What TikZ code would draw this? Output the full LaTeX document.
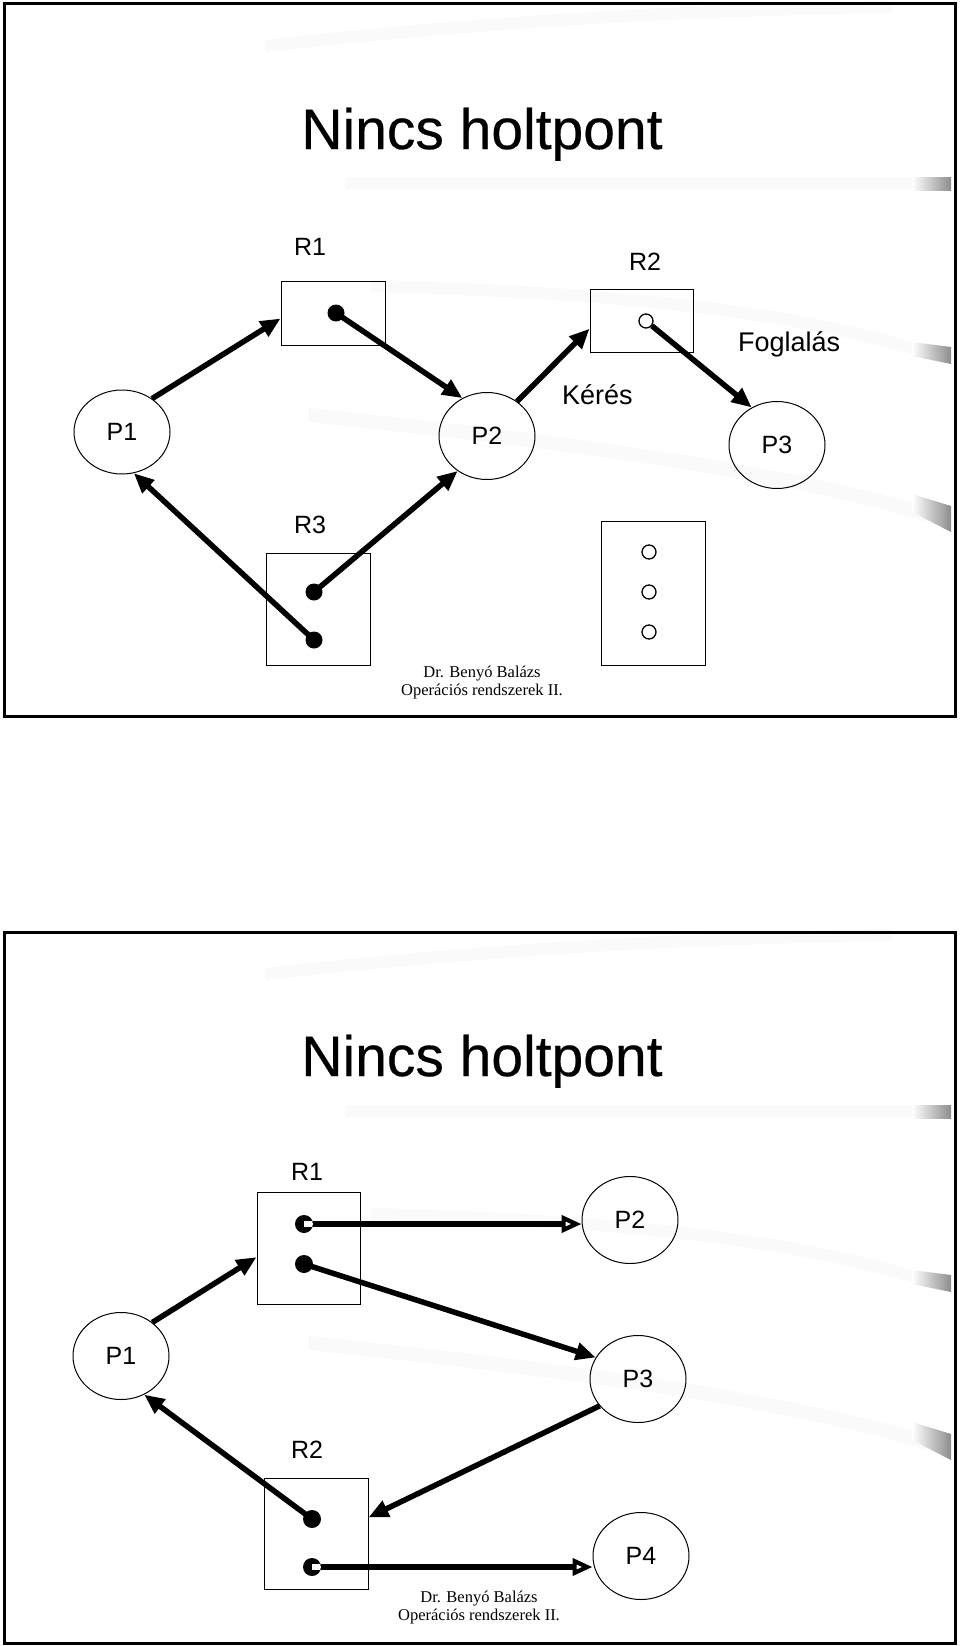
\documentclass[tikz,border=0pt]{standalone}
\usepackage{fontspec}
\setmainfont{Liberation Sans}
\newfontfamily\serifft{Liberation Serif}
\newfontfamily\titlefont[FakeBold=0.4]{Liberation Sans}
\usetikzlibrary{shapes.geometric,arrows.meta,calc}
\newcommand\slidebackdrop{%
  \draw[black!2,line width=12pt] (265,46) .. controls (500,20) and (700,10) .. (892,7);
  \draw[black!2,line width=12pt] (345,183) -- (929,183);
  \draw[black!2,line width=12pt] (370,286) .. controls (600,292) and (800,310) .. (929,354);
  \draw[black!2,line width=14pt] (308,415) .. controls (550,440) and (780,470) .. (929,515);
  \shade[left color=white,right color=black!45] (912,177) rectangle (951,190);
  \shade[left color=white,right color=black!45] (912,342) -- (951,347) -- (951,364) -- (912,356) -- cycle;
  \shade[left color=white,right color=black!45] (912,494) -- (951,506) -- (951,532) -- (912,512) -- cycle;
}
\begin{document}
\begin{tikzpicture}[x=1pt,y=-1pt,
  proc/.style={draw,ellipse,line width=1pt,minimum width=96pt,minimum height=87pt,inner sep=0pt,font=\fontsize{25}{25}\selectfont},
  res/.style={draw,rectangle,line width=1pt,inner sep=0pt},
  lbl/.style={font=\fontsize{25}{25}\selectfont,inner sep=0pt},
  biglbl/.style={font=\fontsize{27}{27}\selectfont,inner sep=0pt},
  fdot/.style={circle,fill=black,inner sep=0pt,minimum size=17pt},
  odot/.style={circle,draw,fill=white,line width=1.3pt,inner sep=0pt,minimum size=14pt},
  hdot/.style={circle,fill=black,inner sep=0pt,minimum size=18pt,
    path picture={\fill[white] ([yshift=-3pt]path picture bounding box.center) rectangle ([yshift=3pt]path picture bounding box.east);}},
  arr/.style={line width=5.5pt,-{Triangle[length=20pt,width=17pt]}},
  oarr/.style={line width=5.5pt,-{Triangle[open,length=20pt,width=17pt,line width=4.2pt]}},
  slideframe/.style={line width=3pt},
  titletext/.style={font=\titlefont\fontsize{57}{57}\selectfont,inner sep=0pt,anchor=base},
  foot/.style={font=\serifft\fontsize{16.5}{18}\selectfont,align=center,inner sep=0pt}
]
\useasboundingbox (0,0) rectangle (960,1646);
\fill[white] (0,0) rectangle (960,1646);

% ---------------- Slide 1 ----------------
\slidebackdrop
\draw[slideframe] (4,4) rectangle (955,716);
\node[titletext] (t1) at (482,149) {Nincs holtpont};

\node[res,minimum width=104pt,minimum height=64pt] (aR1) at (333,313) {};
\node[res,minimum width=103pt,minimum height=63pt] (aR2) at (641.5,320.5) {};
\node[res,minimum width=104pt,minimum height=112pt] (aR3) at (318,609) {};
\node[res,minimum width=104pt,minimum height=144pt] (aR4) at (653,593) {};

\node[lbl] (aR1l) at (310,247) {R1};
\node[lbl] (aR2l) at (645,262) {R2};
\node[lbl] (aR3l) at (310,525) {R3};
\node[biglbl,anchor=base west] (keres) at (562,404) {Kérés};
\node[biglbl,anchor=base west] (fogl) at (738,351) {Foglalás};

\node[proc,minimum height=84pt] (aP1) at (122,432) {P1};
\node[proc] (aP2) at (487,436) {P2};
\node[proc] (aP3) at (777,445) {P3};

\node[fdot] (ad1) at (336,313) {};
\node[odot] (ac2) at (646,321) {};
\node[fdot] (ad3a) at (314,592) {};
\node[fdot] (ad3b) at (314,640) {};
\node[odot] (ac4a) at (649,552) {};
\node[odot] (ac4b) at (649,592) {};
\node[odot] (ac4c) at (649,632) {};

\draw[arr] (aP1.48) -- (aR1.186);
\draw[arr] (ad1.center) -- (aP2.123);
\draw[arr] (aP2.49) -- (aR2.189);
\draw[arr] (ac2) -- (aP3.124);
\draw[arr] (ad3a.center) -- (aP2.230);
\draw[arr] (ad3b.center) -- (aP1.286);

\node[foot] (f1) at (482,683) {Dr. Benyó Balázs\\Operációs rendszerek II.};

% ---------------- Slide 2 ----------------
\begin{scope}[shift={(0,928)}]
\slidebackdrop
\end{scope}
\draw[slideframe] (4,932) rectangle (955,1643);
\node[titletext] (t2) at (482,1076) {Nincs holtpont};

\node[res,minimum width=103pt,minimum height=112pt] (bR1) at (308.5,1248) {};
\node[res,minimum width=104pt,minimum height=111pt] (bR2) at (316,1533.5) {};
\node[lbl] (bR1l) at (307,1172) {R1};
\node[lbl] (bR2l) at (307,1450) {R2};

\node[proc] (bP1) at (121,1356) {P1};
\node[proc] (bP2) at (630,1220) {P2};
\node[proc] (bP3) at (638,1379) {P3};
\node[proc] (bP4) at (641,1556) {P4};

\node[hdot] (bd1a) at (304,1224) {};
\node[fdot,minimum size=18pt] (bd1b) at (304,1264) {};
\node[fdot,minimum size=18pt] (bd2a) at (312,1519) {};
\node[hdot] (bd2b) at (312,1567) {};

\draw[arr] (bP1.47) -- (bR1.190);
\draw[oarr] (bd1a) -- (bd1a -| bP2.west);
\draw[arr] (bd1b.center) -- (bP3.153);
\draw[arr] (bP3.215) -- (bR2.17);
\draw[arr] (bd2a.center) -- (bP1.301);
\draw[oarr] (bd2b) -- (bd2b -| bP4.west);

\node[foot] (f2) at (479,1607) {Dr. Benyó Balázs\\Operációs rendszerek II.};
\end{tikzpicture}
\end{document}
